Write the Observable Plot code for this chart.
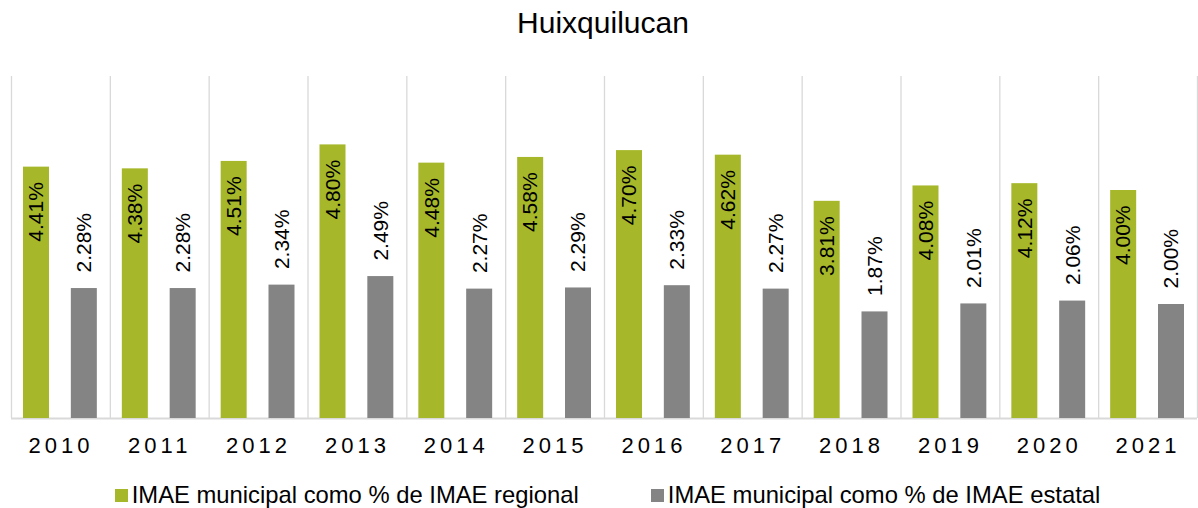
<!DOCTYPE html>
<html>
<head>
<meta charset="utf-8">
<script src="https://cdn.jsdelivr.net/npm/d3@7"></script>
<script src="https://cdn.jsdelivr.net/npm/@observablehq/plot@0.6"></script>
<style>
  html, body { margin: 0; padding: 0; background: #fff; }
  #wrap { position: relative; width: 1198px; height: 508px; font-family: "Liberation Sans", Arial, sans-serif; color: #000; }
  #title { position: absolute; left: 0; top: 0; width: 1198px; height: 60px; line-height: 46px; font-size: 30px; text-align: center; padding-left: 8px; box-sizing: border-box; }
  #chart { position: absolute; left: 0; top: 60px; }
  #legend { position: absolute; left: 0; top: 483px; width: 1198px; box-sizing: border-box; padding-left: 17px; display: flex; justify-content: center; gap: 72px; font-size: 23.8px; line-height: 24px; }
  #legend .item { display: flex; align-items: center; }
  #legend .sw { width: 13px; height: 13px; margin-right: 4px; }
  #chart svg g[aria-label="x-axis tick label"] text { letter-spacing: 4px; }
</style>
</head>
<body>
<div id="wrap">
  <div id="title"></div>
  <div id="chart"></div>
  <div id="legend"></div>
</div>
<script>
const title = "Huixquilucan";
const years = ["2010","2011","2012","2013","2014","2015","2016","2017","2018","2019","2020","2021"];
const regional = [4.41, 4.38, 4.51, 4.80, 4.48, 4.58, 4.70, 4.62, 3.81, 4.08, 4.12, 4.00];
const estatal  = [2.28, 2.28, 2.34, 2.49, 2.27, 2.29, 2.33, 2.27, 1.87, 2.01, 2.06, 2.00];
const seriesNames = ["IMAE municipal como % de IMAE regional", "IMAE municipal como % de IMAE estatal"];
const colors = ["#A6B82A", "#848484"];

const data = years.map((year, i) => ({year, reg: regional[i], est: estatal[i]}));
const fmt = v => v.toFixed(2) + "%";

const W = 1198, H = 400, mL = 11, mR = 1, mT = 16, mB = 42;
const bw = (W - mL - mR) / years.length;
const font = "Liberation Sans, Arial, sans-serif";

document.getElementById("title").textContent = title;

const chart = Plot.plot({
  width: W, height: H,
  marginLeft: mL, marginRight: mR, marginTop: mT, marginBottom: mB,
  style: {fontFamily: font, color: "#000", background: "#fff", overflow: "visible"},
  x: {domain: years, padding: 0, round: false, label: null},
  y: {domain: [0, 6], axis: null},
  marks: [
    Plot.ruleX(years, {x: d => d, dx: -bw / 2, stroke: "#d9d9d9", strokeWidth: 1.3}),
    Plot.ruleX([years[years.length - 1]], {x: d => d, dx: bw / 2, stroke: "#d9d9d9", strokeWidth: 1.3}),
    Plot.ruleY([0], {stroke: "#d9d9d9", strokeWidth: 2}),
    Plot.barY(data, {x: "year", y: "reg", fill: colors[0], insetLeft: 12, insetRight: bw - 38}),
    Plot.barY(data, {x: "year", y: "est", fill: colors[1], insetLeft: bw - 39, insetRight: 13}),
    Plot.text(data, {x: "year", y: "reg", text: d => fmt(d.reg), rotate: -90, textAnchor: "end", lineAnchor: "middle", dy: 15, dx: 25 - bw / 2, fontSize: 21, fill: "#000"}),
    Plot.text(data, {x: "year", y: "est", text: d => fmt(d.est), rotate: -90, textAnchor: "start", lineAnchor: "middle", dy: -16, dx: 73 - bw / 2, fontSize: 21, fill: "#000"}),
    Plot.axisX({tickSize: 0, tickPadding: 19, fontSize: 22, fill: "#000", label: null})
  ]
});
document.getElementById("chart").appendChild(chart);

const legend = document.getElementById("legend");
seriesNames.forEach((name, i) => {
  const item = document.createElement("div");
  item.className = "item";
  const sw = document.createElement("div");
  sw.className = "sw";
  sw.style.background = colors[i];
  const t = document.createElement("span");
  t.textContent = name;
  item.appendChild(sw);
  item.appendChild(t);
  legend.appendChild(item);
});
</script>
</body>
</html>
